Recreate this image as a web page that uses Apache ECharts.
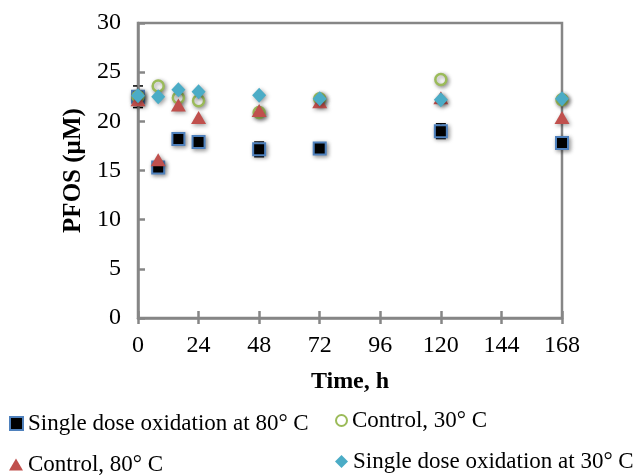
<!DOCTYPE html>
<html>
<head>
<meta charset="utf-8">
<script src="https://cdn.jsdelivr.net/npm/echarts@6/dist/echarts.min.js"></script>
<style>html,body{margin:0;padding:0;background:#fff;}#chart{width:640px;height:475px;}</style>
</head>
<body>
<div id="chart"></div>
<script>
const timeH = [0, 8, 16, 24, 48, 72, 120, 168];
const oxid80 = [22.5, 15.3, 18.2, 17.9, 17.15, 17.25, 19.0, 17.8];
const oxid80Err = [1.1, 0, 0, 0, 0.75, 0, 0.75, 0];
const control30 = [22.5, 23.6, 22.4, 22.1, 20.9, 22.3, 24.25, 22.2];
const control80 = [22.2, 16.1, 21.65, 20.4, 21.1, 22.0, 22.4, 20.4];
const oxid30 = [22.6, 22.5, 23.2, 23.0, 22.65, 22.3, 22.2, 22.3];
const seriesNames = ['Single dose oxidation at 80° C', 'Control, 30° C', 'Control, 80° C', 'Single dose oxidation at 30° C'];
const xTicks = [0, 24, 48, 72, 96, 120, 144, 168];
const yTicks = [0, 5, 10, 15, 20, 25, 30];

const FONT = "'Liberation Serif', 'Times New Roman', serif";
const AXIS = '#868686';
const shadow = {shadowBlur: 4, shadowColor: 'rgba(0,0,0,0.4)', shadowOffsetX: 1.5, shadowOffsetY: 1.5};
const pairs = arr => timeH.map((t, i) => [t, arr[i]]);

const chart = echarts.init(document.getElementById('chart'), null, {renderer: 'canvas'});
const legendBase = {
  orient: 'horizontal', itemGap: 0, padding: 0,
  textStyle: {fontFamily: FONT, fontSize: 23, color: '#000', padding: [0, 0, 0, 0]},
  itemStyle: {shadowBlur: 0, shadowColor: 'transparent', shadowOffsetX: 0, shadowOffsetY: 0}
};
chart.setOption({
  animation: false,
  backgroundColor: '#fff',
  grid: {left: 138, right: 78, top: 23, bottom: 157, show: true, borderColor: AXIS, borderWidth: 2.5, backgroundColor: 'transparent'},
  legend: [
    Object.assign({}, legendBase, {left: 9, top: 412, itemWidth: 13, itemHeight: 13, data: [seriesNames[0]]}),
    Object.assign({}, legendBase, {left: 335, top: 409, itemWidth: 11, itemHeight: 11, data: [seriesNames[1]]}),
    Object.assign({}, legendBase, {left: 9, top: 453, itemWidth: 14, itemHeight: 12, data: [seriesNames[2]]}),
    Object.assign({}, legendBase, {left: 335, top: 450, itemWidth: 13, itemHeight: 13, data: [seriesNames[3]]})
  ],
  xAxis: [{
    type: 'value', min: 0, max: 168, interval: 24,
    name: 'Time, h', nameLocation: 'middle', nameGap: 52,
    nameTextStyle: {fontFamily: FONT, fontSize: 24, fontWeight: 'bold', color: '#000'},
    axisLine: {show: true, lineStyle: {color: AXIS, width: 2.5}},
    axisTick: {show: true, inside: true, length: 7, lineStyle: {color: AXIS, width: 2.5}},
    axisLabel: {margin: 16, fontFamily: FONT, fontSize: 24, color: '#000',
      formatter: v => xTicks.includes(v) ? String(v) : ''},
    splitLine: {show: false}
  }, {
    type: 'value', min: 0, max: 168, interval: 24, position: 'bottom', offset: 0,
    axisLine: {show: false},
    axisTick: {show: true, inside: false, length: 6, lineStyle: {color: AXIS, width: 2.5}},
    axisLabel: {show: false}, splitLine: {show: false}
  }],
  yAxis: {
    type: 'value', min: 0, max: 30, interval: 5,
    name: 'PFOS (µM)', nameLocation: 'middle', nameGap: 46, nameRotate: 90,
    nameTextStyle: {fontFamily: FONT, fontSize: 25, fontWeight: 'bold', color: '#000'},
    axisLine: {show: true, lineStyle: {color: AXIS, width: 2.5}},
    axisTick: {show: true, inside: true, length: 7, lineStyle: {color: AXIS, width: 2.5}},
    axisLabel: {margin: 17, fontFamily: FONT, fontSize: 24, color: '#000',
      formatter: v => yTicks.includes(v) ? String(v) : ''},
    splitLine: {show: false}
  },
  series: [
    {
      type: 'custom', name: 'err', xAxisIndex: 0, silent: true, z: 0,
      data: timeH.map((t, i) => [t, oxid80[i], oxid80Err[i]]).filter(d => d[2] > 0),
      renderItem: function (params, api) {
        const x = api.value(0), y = api.value(1), e = api.value(2);
        const top = api.coord([x, y + e]);
        const bot = api.coord([x, y - e]);
        const hw = 5;
        return {
          type: 'group',
          children: [
            {type: 'line', shape: {x1: top[0], y1: top[1], x2: bot[0], y2: bot[1]}, style: {stroke: '#000', lineWidth: 1.5}},
            {type: 'line', shape: {x1: top[0] - hw, y1: top[1], x2: top[0] + hw, y2: top[1]}, style: {stroke: '#000', lineWidth: 1.5}},
            {type: 'line', shape: {x1: bot[0] - hw, y1: bot[1], x2: bot[0] + hw, y2: bot[1]}, style: {stroke: '#000', lineWidth: 1.5}}
          ]
        };
      }
    },
    {
      type: 'scatter', name: seriesNames[0], data: pairs(oxid80), symbol: 'rect', symbolSize: 12, z: 10,
      itemStyle: Object.assign({color: '#000', borderColor: '#4f81bd', borderWidth: 2, opacity: 1}, shadow)
    },
    {
      type: 'scatter', name: seriesNames[1], data: pairs(control30), symbol: 'circle', symbolSize: 11, z: 11,
      itemStyle: Object.assign({color: '#fff', borderColor: '#9bbb59', borderWidth: 2.5, opacity: 1}, shadow)
    },
    {
      type: 'scatter', name: seriesNames[2], data: pairs(control80), symbol: 'triangle', symbolSize: [15, 13], z: 12,
      itemStyle: Object.assign({color: '#c0504d', opacity: 1}, shadow)
    },
    {
      type: 'scatter', name: seriesNames[3], data: pairs(oxid30), symbol: 'diamond', symbolSize: [14, 15], z: 13,
      itemStyle: Object.assign({color: '#4bacc6', opacity: 1}, shadow)
    }
  ]
});
</script>
</body>
</html>
